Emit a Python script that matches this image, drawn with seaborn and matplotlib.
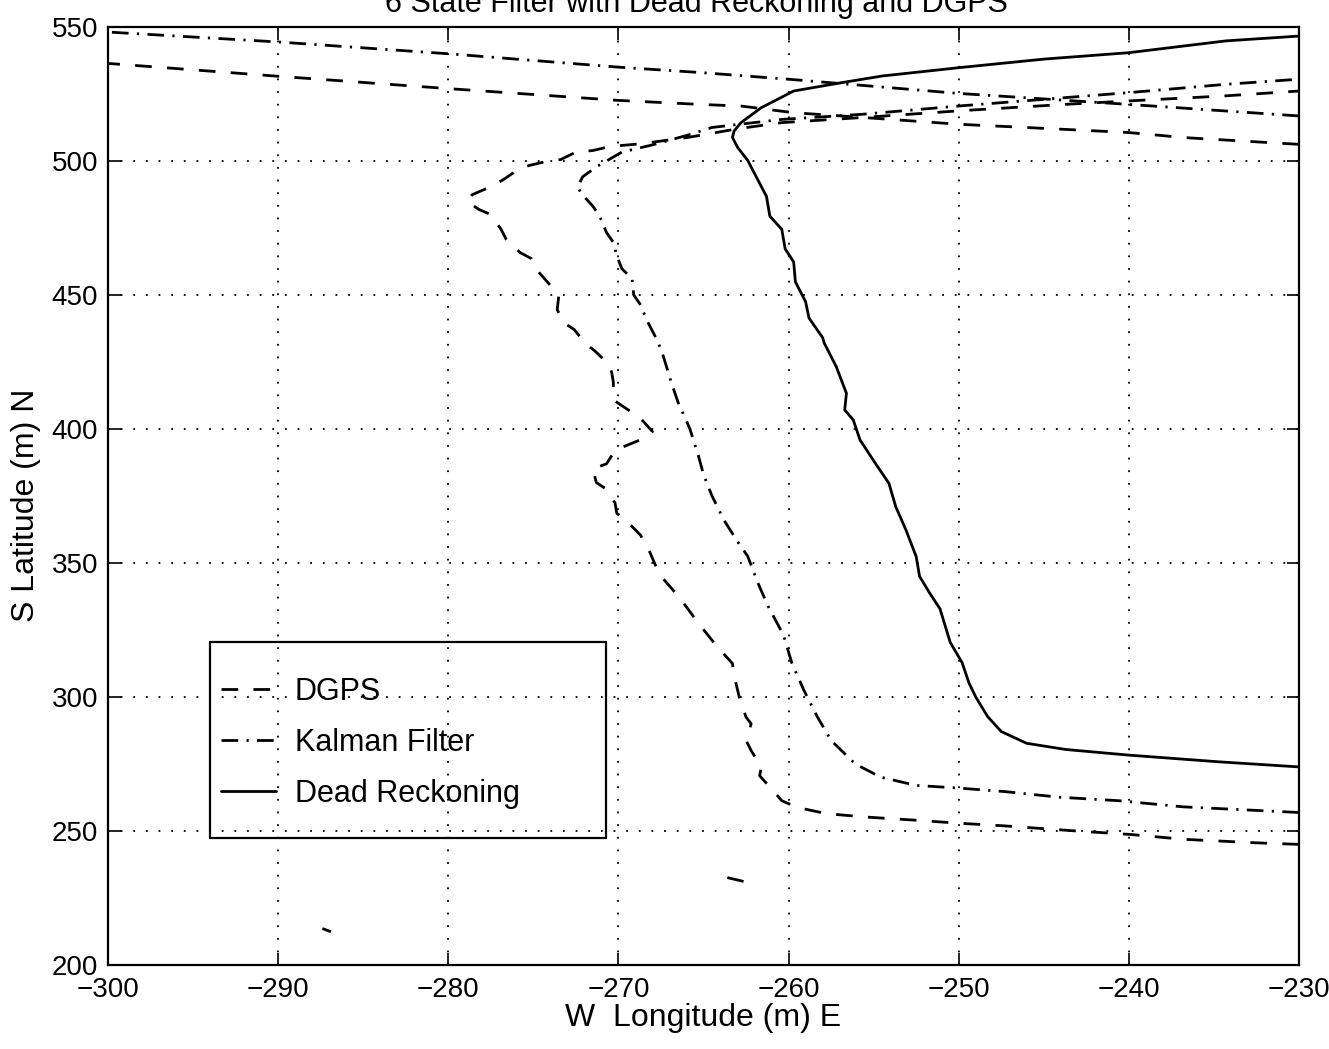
import numpy as np
import pandas as pd
import matplotlib
matplotlib.use("Agg")
import matplotlib.pyplot as plt
import seaborn as sns
from matplotlib.lines import Line2D
from matplotlib.patches import Rectangle

# ---------------- data ----------------
title = "6 State Filter with Dead Reckoning and DGPS"
series_names = ["DGPS", "Kalman Filter", "Dead Reckoning"]
x_ticks = [-300, -290, -280, -270, -260, -250, -240, -230]
y_ticks = [200, 250, 300, 350, 400, 450, 500, 550]

# DGPS: outbound track (bottom right -> up -> top right)
dgps_out_lon = [-230.0, -232.6, -236.8, -239.9, -243.1, -247.3, -250.0, -252.5, -255.7, -257.8,
                -259.5, -260.4, -260.9, -261.7, -261.6, -262.2, -262.5, -262.2, -262.5, -262.9,
                -263.2, -263.3, -264.2, -265.3, -266.4, -267.6, -268.2, -268.7, -269.2, -270.1,
                -270.2, -270.7, -271.3, -271.5, -270.7, -270.2, -269.5, -268.5, -268.0, -268.7,
                -269.3, -270.2, -270.3, -270.3, -270.4, -270.6, -271.4, -271.9, -272.6, -273.2,
                -273.6, -273.5, -274.1, -274.7, -275.1, -275.8, -276.6, -276.9, -277.5, -278.2,
                -278.9, -278.6, -277.5, -276.8, -275.8, -275.2, -274.1, -273.4, -272.5, -271.5,
                -270.5, -268.7, -265.9, -263.0, -260.4, -255.7, -250.0, -243.8, -240.0, -234.3,
                -230.0]
dgps_out_lat = [245.0, 245.6, 246.9, 248.7, 250.0, 251.9, 252.9, 254.0, 255.3, 256.5,
                258.8, 261.3, 265.0, 270.6, 273.8, 280.0, 283.8, 290.0, 292.5, 300.0,
                308.0, 312.5, 318.8, 327.5, 337.0, 345.8, 354.7, 360.4, 363.6, 368.6,
                372.4, 377.5, 380.0, 385.1, 387.0, 392.0, 393.9, 396.5, 399.0, 404.0,
                406.6, 410.4, 414.8, 417.5, 421.2, 424.3, 429.2, 431.6, 437.1, 439.6,
                444.5, 450.0, 454.3, 458.6, 463.5, 465.9, 470.8, 474.5, 480.0, 481.9,
                484.9, 487.4, 490.4, 492.9, 497.2, 498.4, 500.0, 500.5, 503.3, 503.9,
                505.4, 506.4, 508.8, 512.0, 514.3, 516.2, 518.7, 521.1, 522.4, 524.3,
                526.1]
# DGPS: return track (enters right edge, leaves left edge)
dgps_ret_lon = [-230.0, -236.7, -240.0, -243.8, -250.0, -256.9, -259.7, -262.8, -265.2, -270.0,
                -280.0, -290.0, -300.0]
dgps_ret_lat = [506.2, 508.7, 510.6, 511.8, 513.7, 516.8, 518.0, 520.5, 521.1, 522.6,
                527.0, 531.6, 536.4]
# DGPS: isolated outlier fixes
dgps_out1_lon = [-263.6, -262.6]
dgps_out1_lat = [232.6, 231.1]
dgps_out2_lon = [-287.4, -286.9]
dgps_out2_lat = [213.6, 212.4]

# Kalman filter
kf_out_lon = [-230.0, -236.8, -240.6, -244.1, -247.3, -250.0, -252.5, -254.6, -256.1, -257.5,
              -258.3, -259.1, -259.8, -260.3, -261.2, -261.8, -262.4, -263.0, -263.8, -264.5,
              -265.0, -265.3, -265.8, -266.0, -266.5, -266.9, -267.4, -267.7, -268.3, -268.7,
              -269.1, -269.2, -269.8, -270.1, -270.3, -270.7, -271.1, -271.5, -272.2, -272.4,
              -272.1, -271.3, -269.8, -268.0, -266.0, -264.5, -260.4, -255.7, -250.0, -243.8,
              -240.0, -234.3, -230.0]
kf_out_lat = [256.9, 259.0, 261.3, 262.6, 264.7, 266.0, 267.0, 270.1, 275.1, 283.8,
              292.5, 302.5, 312.5, 323.1, 333.8, 342.5, 352.5, 358.0, 366.0, 375.0,
              383.0, 390.0, 400.0, 403.0, 410.0, 417.5, 427.9, 432.8, 440.2, 446.3,
              450.0, 456.1, 459.8, 464.7, 469.6, 473.3, 479.4, 483.1, 488.0, 490.4,
              494.1, 497.8, 503.3, 506.0, 509.5, 512.5, 515.5, 517.4, 520.5, 523.6,
              525.5, 528.6, 530.5]
kf_ret_lon = [-230.0, -240.0, -250.0, -260.0, -265.2, -270.0, -280.0, -290.0, -300.0]
kf_ret_lat = [516.8, 521.1, 525.2, 530.5, 533.0, 535.0, 540.0, 544.4, 548.1]

# Dead reckoning
dr_lon = [-230.0, -234.7, -240.0, -243.7, -246.0, -247.5, -248.3, -249.0, -249.4, -249.8,
          -250.5, -251.1, -251.7, -252.3, -252.5, -253.1, -253.7, -254.1, -254.9, -255.8,
          -256.2, -256.7, -256.6, -257.2, -257.9, -258.0, -258.8, -259.0, -259.6, -259.7,
          -260.2, -260.4, -261.1, -261.3, -262.0, -262.4, -263.0, -263.3, -263.2, -262.8,
          -261.6, -259.7, -256.9, -254.5, -250.0, -245.0, -240.0, -234.3, -230.0]
dr_lat = [273.9, 275.8, 278.3, 280.4, 282.7, 287.1, 292.7, 300.0, 305.3, 312.8,
          320.4, 332.9, 338.7, 345.0, 352.4, 362.3, 371.0, 379.7, 387.2, 395.9,
          403.4, 407.1, 413.3, 423.3, 432.0, 434.1, 441.4, 447.5, 454.9, 462.3,
          467.2, 474.5, 479.4, 486.8, 495.3, 500.2, 505.1, 508.8, 511.2, 514.3,
          519.9, 526.1, 529.2, 531.7, 534.8, 538.0, 540.4, 544.8, 546.6]


def segments_frame(*segs):
    rows = []
    for i, (lon, lat) in enumerate(segs):
        for a, b in zip(lon, lat):
            rows.append({"lon": a, "lat": b, "seg": i})
    return pd.DataFrame(rows)


df_dgps = segments_frame((dgps_out_lon, dgps_out_lat), (dgps_ret_lon, dgps_ret_lat),
                         (dgps_out1_lon, dgps_out1_lat), (dgps_out2_lon, dgps_out2_lat))
df_kf = segments_frame((kf_out_lon, kf_out_lat), (kf_ret_lon, kf_ret_lat))
df_dr = segments_frame((dr_lon, dr_lat))

# ---------------- styling ----------------
sns.set_theme(style="white")
plt.rcParams["font.family"] = ["Liberation Sans", "DejaVu Sans"]
plt.rcParams["text.color"] = "black"

LW = 2.0
ls_dgps = (0, (6.0, 5.5))
ls_kf = (0, (6.0, 3.0, 0.8, 3.0))
ls_dr = "-"

fig = plt.figure(figsize=(13.29, 10.49), dpi=100)
ax = fig.add_axes([0.0813, 0.0801, 0.8961, 0.8942])

sns.lineplot(data=df_dgps, x="lon", y="lat", units="seg", estimator=None, sort=False,
             color="black", linewidth=LW, linestyle=ls_dgps, ax=ax, legend=False)
sns.lineplot(data=df_kf, x="lon", y="lat", units="seg", estimator=None, sort=False,
             color="black", linewidth=LW, linestyle=ls_kf, ax=ax, legend=False)
sns.lineplot(data=df_dr, x="lon", y="lat", units="seg", estimator=None, sort=False,
             color="black", linewidth=LW, linestyle=ls_dr, ax=ax, legend=False)

ax.set_xlim(-300, -230)
ax.set_ylim(200, 550)
ax.set_xticks(x_ticks)
ax.set_yticks(y_ticks)
ax.grid(True, color="black", linestyle=(0, (1, 6)), linewidth=1.3)
ax.set_axisbelow(True)
for sp in ax.spines.values():
    sp.set_color("black")
    sp.set_linewidth(1.6)
ax.tick_params(direction="in", length=9, width=1.2, top=True, right=True,
               bottom=True, left=True, labelsize=20, colors="black")
ax.tick_params(axis="x", pad=9)
ax.tick_params(axis="y", pad=7)

ax.set_xlabel("W  Longitude (m) E", fontsize=23, color="black", labelpad=0)
ax.set_ylabel("S Latitude (m) N", fontsize=23, color="black")
ax.yaxis.set_label_coords(-0.056, 0.49)

fig.text(0.524, 1 - 12 / 1049, title, ha="center", va="baseline", fontsize=22, color="black")

handles = [Line2D([], [], color="black", lw=LW, linestyle=ls_dgps),
           Line2D([], [], color="black", lw=LW, linestyle=ls_kf),
           Line2D([], [], color="black", lw=LW, linestyle=ls_dr)]
ax.legend(handles, series_names, loc="center left", bbox_to_anchor=(0.095, 0.2368),
          frameon=False, fontsize=22, borderpad=0, borderaxespad=0, labelcolor="black",
          handlelength=1.8, handletextpad=0.6, labelspacing=0.68)
ax.add_patch(Rectangle((0.0856, 0.1354), 0.3325, 0.2090, transform=ax.transAxes,
                       fill=False, edgecolor="black", linewidth=1.6, zorder=5))

fig.savefig("out.png", dpi=100)
